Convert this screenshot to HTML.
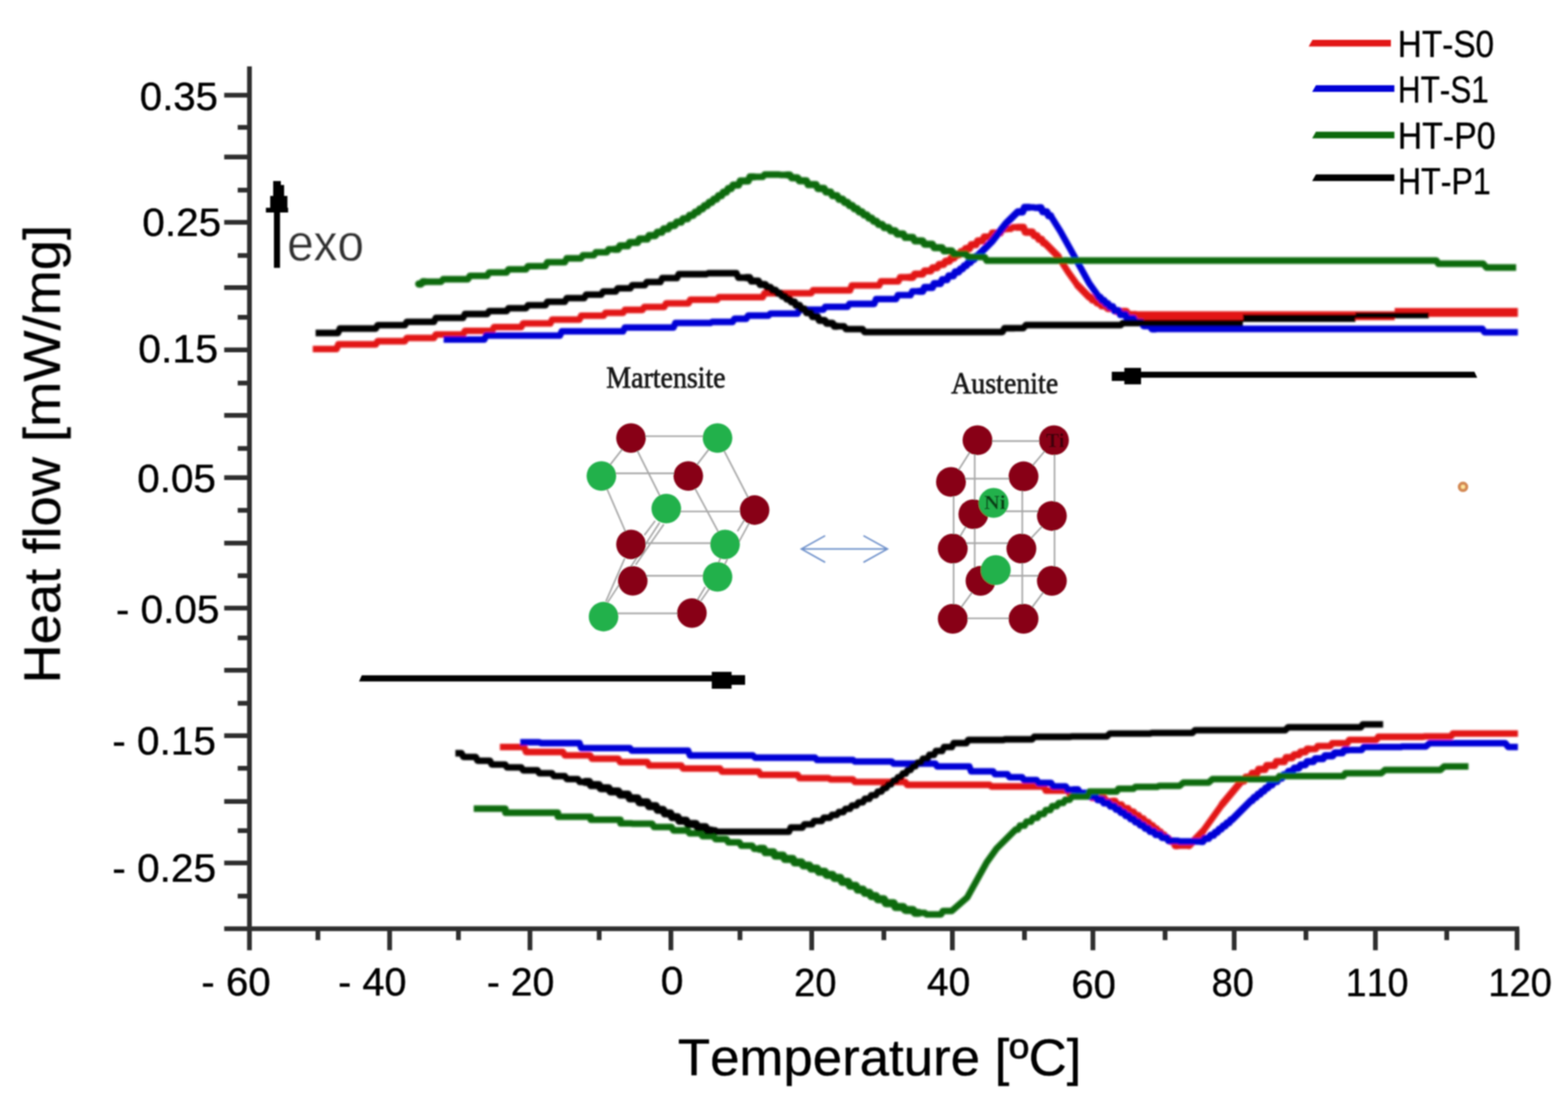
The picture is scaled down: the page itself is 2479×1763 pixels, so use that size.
<!DOCTYPE html>
<html lang="en"><head><meta charset="utf-8"><title>DSC heat flow curves</title>
<style>
html,body{margin:0;padding:0;background:#fff;}
body{width:2479px;height:1763px;overflow:hidden;}
svg{display:block;}
text{font-kerning:none;}
.sans{font-family:"Liberation Sans",Arial,Helvetica,sans-serif;fill:#000;stroke:#000;stroke-width:0.6px;stroke-linejoin:round;}
.serif{font-family:"Liberation Serif","Times New Roman",Times,serif;fill:#141414;stroke:#141414;stroke-width:1.0px;}
</style></head><body>
<svg width="2479" height="1763" viewBox="0 0 2479 1763">
<defs><filter id="soft" x="0" y="0" width="2479" height="1763" filterUnits="userSpaceOnUse"><feGaussianBlur stdDeviation="1.10"/></filter><filter id="soft2" x="0" y="0" width="2479" height="1763" filterUnits="userSpaceOnUse"><feGaussianBlur stdDeviation="0.9"/></filter></defs>
<rect width="2479" height="1763" fill="#ffffff"/>
<g filter="url(#soft)">
<g stroke="#2e2e2e" stroke-width="7.5" fill="none" stroke-linecap="butt">
<line x1="394.4" y1="105" x2="394.4" y2="1502.5"/>
<line x1="354.5" y1="1468.5" x2="2402" y2="1468.5"/>
<line x1="354.5" y1="150.5" x2="394.4" y2="150.5"/>
<line x1="354.5" y1="248.2" x2="394.4" y2="248.2"/>
<line x1="354.5" y1="351.6" x2="394.4" y2="351.6"/>
<line x1="354.5" y1="454.7" x2="394.4" y2="454.7"/>
<line x1="354.5" y1="553.3" x2="394.4" y2="553.3"/>
<line x1="354.5" y1="656.7" x2="394.4" y2="656.7"/>
<line x1="354.5" y1="755.3" x2="394.4" y2="755.3"/>
<line x1="354.5" y1="858.7" x2="394.4" y2="858.7"/>
<line x1="354.5" y1="961.6" x2="394.4" y2="961.6"/>
<line x1="354.5" y1="1059.8" x2="394.4" y2="1059.8"/>
<line x1="354.5" y1="1163.2" x2="394.4" y2="1163.2"/>
<line x1="354.5" y1="1267.2" x2="394.4" y2="1267.2"/>
<line x1="354.5" y1="1364.6" x2="394.4" y2="1364.6"/>
<line x1="375.8" y1="201.4" x2="394.4" y2="201.4"/>
<line x1="375.8" y1="300.6" x2="394.4" y2="300.6"/>
<line x1="375.8" y1="404.0" x2="394.4" y2="404.0"/>
<line x1="375.8" y1="501.7" x2="394.4" y2="501.7"/>
<line x1="375.8" y1="605.7" x2="394.4" y2="605.7"/>
<line x1="375.8" y1="709.1" x2="394.4" y2="709.1"/>
<line x1="375.8" y1="806.9" x2="394.4" y2="806.9"/>
<line x1="375.8" y1="910.3" x2="394.4" y2="910.3"/>
<line x1="375.8" y1="1008.6" x2="394.4" y2="1008.6"/>
<line x1="375.8" y1="1112.0" x2="394.4" y2="1112.0"/>
<line x1="375.8" y1="1214.8" x2="394.4" y2="1214.8"/>
<line x1="375.8" y1="1313.4" x2="394.4" y2="1313.4"/>
<line x1="375.8" y1="1416.9" x2="394.4" y2="1416.9"/>
<line x1="616.0" y1="1468.5" x2="616.0" y2="1502.5"/>
<line x1="837.9" y1="1468.5" x2="837.9" y2="1502.5"/>
<line x1="1060.7" y1="1468.5" x2="1060.7" y2="1502.5"/>
<line x1="1283.3" y1="1468.5" x2="1283.3" y2="1502.5"/>
<line x1="1505.7" y1="1468.5" x2="1505.7" y2="1502.5"/>
<line x1="1727.9" y1="1468.5" x2="1727.9" y2="1502.5"/>
<line x1="1951.2" y1="1468.5" x2="1951.2" y2="1502.5"/>
<line x1="2174.5" y1="1468.5" x2="2174.5" y2="1502.5"/>
<line x1="2398.5" y1="1468.5" x2="2398.5" y2="1502.5"/>
<line x1="502.6" y1="1468.5" x2="502.6" y2="1486.5"/>
<line x1="724.8" y1="1468.5" x2="724.8" y2="1486.5"/>
<line x1="947.3" y1="1468.5" x2="947.3" y2="1486.5"/>
<line x1="1169.9" y1="1468.5" x2="1169.9" y2="1486.5"/>
<line x1="1397.4" y1="1468.5" x2="1397.4" y2="1486.5"/>
<line x1="1619.7" y1="1468.5" x2="1619.7" y2="1486.5"/>
<line x1="1842.0" y1="1468.5" x2="1842.0" y2="1486.5"/>
<line x1="2064.7" y1="1468.5" x2="2064.7" y2="1486.5"/>
<line x1="2287.3" y1="1468.5" x2="2287.3" y2="1486.5"/>
</g>
<text x="221.1" y="174.2" font-size="63.5" class="sans" textLength="123.5" lengthAdjust="spacingAndGlyphs" xml:space="preserve">0.35</text>
<text x="225.1" y="372.5" font-size="63.5" class="sans" textLength="124.5" lengthAdjust="spacingAndGlyphs" xml:space="preserve">0.25</text>
<text x="218.4" y="573.4" font-size="63.5" class="sans" textLength="126.4" lengthAdjust="spacingAndGlyphs" xml:space="preserve">0.15</text>
<text x="216.9" y="778.0" font-size="63.5" class="sans" textLength="124.4" lengthAdjust="spacingAndGlyphs" xml:space="preserve">0.05</text>
<text x="183.2" y="985.3" font-size="63.5" class="sans" textLength="163.8" lengthAdjust="spacingAndGlyphs" xml:space="preserve">- 0.05</text>
<text x="177.5" y="1192.7" font-size="63.5" class="sans" textLength="163.8" lengthAdjust="spacingAndGlyphs" xml:space="preserve">- 0.15</text>
<text x="177.4" y="1393.6" font-size="63.5" class="sans" textLength="164.3" lengthAdjust="spacingAndGlyphs" xml:space="preserve">- 0.25</text>
<text x="318.3" y="1574.2" font-size="63.5" class="sans" textLength="109.6" lengthAdjust="spacingAndGlyphs" xml:space="preserve">- 60</text>
<text x="534.6" y="1574.2" font-size="63.5" class="sans" textLength="108.1" lengthAdjust="spacingAndGlyphs" xml:space="preserve">- 40</text>
<text x="769.8" y="1574.0" font-size="63.5" class="sans" textLength="106.7" lengthAdjust="spacingAndGlyphs" xml:space="preserve">- 20</text>
<text x="1044.4" y="1572.0" font-size="63.5" class="sans" textLength="36.1" lengthAdjust="spacingAndGlyphs" xml:space="preserve">0</text>
<text x="1255.5" y="1574.6" font-size="63.5" class="sans" textLength="67.0" lengthAdjust="spacingAndGlyphs" xml:space="preserve">20</text>
<text x="1465.6" y="1574.0" font-size="63.5" class="sans" textLength="68.5" lengthAdjust="spacingAndGlyphs" xml:space="preserve">40</text>
<text x="1693.7" y="1577.6" font-size="63.5" class="sans" textLength="70.4" lengthAdjust="spacingAndGlyphs" xml:space="preserve">60</text>
<text x="1915.5" y="1575.0" font-size="63.5" class="sans" textLength="66.8" lengthAdjust="spacingAndGlyphs" xml:space="preserve">80</text>
<text x="2127.6" y="1574.6" font-size="63.5" class="sans" textLength="99.1" lengthAdjust="spacingAndGlyphs" xml:space="preserve">110</text>
<text x="2352.9" y="1574.6" font-size="63.5" class="sans" textLength="100.8" lengthAdjust="spacingAndGlyphs" xml:space="preserve">120</text>
<text x="1071.7" y="1700.3" font-size="81.0" class="sans" textLength="638.0" lengthAdjust="spacingAndGlyphs" xml:space="preserve">Temperature [ºC]</text>
<text transform="translate(94.6,1073.7) rotate(-90)" x="-7.0" y="0" font-size="81" class="sans" textLength="725.2" lengthAdjust="spacingAndGlyphs">Heat flow [mW/mg]</text>
<g filter="url(#soft2)">
<polyline points="494.5,551.8 532.0,551.8 535.0,544.5 572.6,544.5 594.1,544.5 597.1,539.5 640.1,539.5 643.1,534.4 664.6,534.4 686.1,534.4 689.1,528.8 732.1,528.8 735.1,523.1 756.6,523.1 778.1,523.1 781.1,517.2 824.0,517.2 827.0,511.4 848.5,511.4 870.0,511.4 873.0,505.3 916.0,505.3 919.0,499.2 940.5,499.2 954.3,499.2 957.3,494.6 985.0,494.6 988.0,490.0 1015.7,490.0 1018.7,485.4 1032.5,485.4 1050.1,485.4 1053.1,479.6 1088.4,479.6 1091.4,473.8 1109.0,473.8 1133.7,473.8 1136.7,469.8 1161.3,469.8 1205.8,469.8 1208.8,463.6 1253.3,463.6 1282.4,463.6 1285.4,459.0 1314.6,459.0 1343.8,459.0 1346.8,451.4 1376.0,451.4 1389.8,451.4 1392.8,444.9 1420.2,444.9 1423.2,438.5 1437.0,438.5 1443.2,438.5 1446.2,433.4 1458.7,433.4 1461.7,428.4 1467.9,428.4 1471.5,428.4 1474.5,423.3 1481.7,423.3 1484.7,418.1 1491.9,418.1 1494.9,413.0 1498.5,413.0 1500.8,413.0 1503.8,408.0 1508.4,408.0 1511.4,403.0 1516.1,403.0 1519.1,398.0 1523.7,398.0 1526.7,393.0 1529.0,393.0 1532.6,393.0 1535.6,386.9 1542.9,386.9 1545.9,380.8 1553.2,380.8 1556.2,374.7 1559.8,374.7 1566.0,374.7 1569.0,368.3 1581.3,368.3 1584.3,361.9 1590.5,361.9 1598.2,361.9 1601.2,359.4 1609.0,359.4 1618.0,359.4 1621.0,367.0 1630.0,367.0 1632.1,367.0 1635.1,372.7 1639.4,372.7 1642.4,378.3 1646.7,378.3 1649.7,384.0 1651.8,384.0 1673.0,405.4 1688.6,430.0 1704.0,451.4 1722.0,469.8 1724.1,469.8 1727.1,474.4 1731.4,474.4 1734.4,479.0 1738.7,479.0 1741.7,483.6 1743.8,483.6 1748.3,483.6 1751.3,487.8 1760.5,487.8 1763.5,492.0 1768.0,492.0 1781.0,492.0 1784.0,497.0 1797.0,497.0" fill="none" stroke="#e21215" stroke-width="10.3" stroke-linejoin="round" stroke-linecap="butt"/><polyline points="1437.0,438.5 1443.2,438.5 1446.2,433.4 1458.7,433.4 1461.7,428.4 1467.9,428.4 1471.5,428.4 1474.5,423.3 1481.7,423.3 1484.7,418.1 1491.9,418.1 1494.9,413.0 1498.5,413.0 1500.8,413.0 1503.8,408.0 1508.4,408.0 1511.4,403.0 1516.1,403.0 1519.1,398.0 1523.7,398.0 1526.7,393.0 1529.0,393.0 1532.6,393.0 1535.6,386.9 1542.9,386.9 1545.9,380.8 1553.2,380.8 1556.2,374.7 1559.8,374.7 1566.0,374.7 1569.0,368.3 1581.3,368.3 1584.3,361.9 1590.5,361.9" fill="none" stroke="#e21215" stroke-width="11.3" stroke-linejoin="round" stroke-linecap="round"/><polyline points="1609.0,359.4 1618.0,359.4 1621.0,367.0 1630.0,367.0 1632.1,367.0 1635.1,372.7 1639.4,372.7 1642.4,378.3 1646.7,378.3 1649.7,384.0 1651.8,384.0 1673.0,405.4" fill="none" stroke="#e21215" stroke-width="11.3" stroke-linejoin="round" stroke-linecap="round"/><polyline points="1704.0,451.4 1722.0,469.8 1724.1,469.8 1727.1,474.4 1731.4,474.4 1734.4,479.0 1738.7,479.0 1741.7,483.6 1743.8,483.6 1748.3,483.6 1751.3,487.8 1760.5,487.8 1763.5,492.0 1768.0,492.0" fill="none" stroke="#e21215" stroke-width="11.3" stroke-linejoin="round" stroke-linecap="round"/>
<polyline points="1793.0,499.2 2205.0,499.2" fill="none" stroke="#e21215" stroke-width="14.0" stroke-linejoin="round" stroke-linecap="butt"/>
<polyline points="2205.0,494.0 2399.7,494.0" fill="none" stroke="#e21215" stroke-width="14.0" stroke-linejoin="round" stroke-linecap="butt"/>
<polyline points="701.4,536.8 765.7,536.8 768.7,530.6 833.0,530.6 885.2,530.6 888.2,523.9 940.5,523.9 985.0,523.9 988.0,517.8 1032.5,517.8 1064.8,517.8 1067.8,510.7 1100.0,510.7 1123.0,510.7 1126.0,509.0 1149.0,509.0 1158.2,509.0 1161.2,504.0 1179.8,504.0 1182.8,499.0 1192.0,499.0 1215.0,499.0 1218.0,495.8 1241.0,495.8 1261.0,495.8 1264.0,489.7 1284.0,489.7 1301.7,489.7 1304.7,485.1 1339.9,485.1 1342.9,480.5 1360.6,480.5 1382.1,480.5 1385.1,472.8 1406.6,472.8 1416.6,472.8 1419.6,466.7 1439.5,466.7 1442.5,460.6 1452.5,460.6 1458.7,460.6 1461.7,454.5 1474.0,454.5 1477.0,448.3 1483.2,448.3 1486.8,448.3 1489.8,442.2 1497.1,442.2 1500.1,436.1 1507.3,436.1 1510.3,430.0 1513.9,430.0 1515.5,430.0 1518.5,425.1 1521.6,425.1 1524.6,420.2 1527.7,420.2 1530.7,415.2 1533.8,415.2 1536.8,410.3 1539.9,410.3 1542.9,405.4 1544.5,405.4 1569.0,380.9 1590.5,353.3 1609.0,335.0 1616.7,335.0 1619.7,327.8 1627.3,327.8 1633.4,327.8 1636.4,328.5 1642.6,328.5 1645.7,328.5 1648.7,334.8 1654.9,334.8 1657.9,341.0 1661.0,341.0 1676.3,365.5 1691.7,393.0 1707.0,420.7 1722.3,448.3 1737.6,469.8 1739.2,469.8 1742.2,474.9 1745.3,474.9 1748.3,479.9 1751.4,479.9 1754.4,485.0 1756.0,485.0 1759.1,485.0 1762.1,491.2 1768.3,491.2 1771.3,497.4 1774.4,497.4 1779.3,497.4 1782.3,503.7 1792.1,503.7 1795.1,510.0 1800.0,510.0 1805.2,510.0 1808.2,515.0 1818.4,515.0 1821.4,520.0 1826.6,520.0 2343.7,520.0 2347.0,525.4 2399.7,525.4" fill="none" stroke="#0000d6" stroke-width="10.3" stroke-linejoin="round" stroke-linecap="butt"/><polyline points="1452.5,460.6 1458.7,460.6 1461.7,454.5 1474.0,454.5 1477.0,448.3 1483.2,448.3 1486.8,448.3 1489.8,442.2 1497.1,442.2 1500.1,436.1 1507.3,436.1 1510.3,430.0 1513.9,430.0 1515.5,430.0 1518.5,425.1 1521.6,425.1 1524.6,420.2 1527.7,420.2 1530.7,415.2 1533.8,415.2 1536.8,410.3 1539.9,410.3 1542.9,405.4 1544.5,405.4 1569.0,380.9 1590.5,353.3 1609.0,335.0 1616.7,335.0 1619.7,327.8 1627.3,327.8" fill="none" stroke="#0000d6" stroke-width="11.3" stroke-linejoin="round" stroke-linecap="round"/><polyline points="1642.6,328.5 1645.7,328.5 1648.7,334.8 1654.9,334.8 1657.9,341.0 1661.0,341.0" fill="none" stroke="#0000d6" stroke-width="11.3" stroke-linejoin="round" stroke-linecap="round"/><polyline points="1737.6,469.8 1739.2,469.8 1742.2,474.9 1745.3,474.9 1748.3,479.9 1751.4,479.9 1754.4,485.0 1756.0,485.0 1759.1,485.0 1762.1,491.2 1768.3,491.2 1771.3,497.4 1774.4,497.4 1779.3,497.4 1782.3,503.7 1792.1,503.7 1795.1,510.0 1800.0,510.0 1805.2,510.0 1808.2,515.0 1818.4,515.0 1821.4,520.0 1826.6,520.0" fill="none" stroke="#0000d6" stroke-width="11.3" stroke-linejoin="round" stroke-linecap="round"/>
<polyline points="662.0,449.0 665.5,449.0 668.5,445.5 672.0,445.5 697.5,445.5 700.5,441.5 726.0,441.5 739.8,441.5 742.8,436.2 770.2,436.2 773.2,430.9 787.0,430.9 800.9,430.9 803.9,425.9 831.6,425.9 834.6,420.8 848.5,420.8 862.3,420.8 865.3,414.6 893.0,414.6 896.0,408.5 909.8,408.5 918.5,408.5 921.5,403.7 938.9,403.7 941.9,398.9 959.3,398.9 962.3,394.1 971.0,394.1 977.2,394.1 980.2,388.7 992.6,388.7 995.6,383.3 1007.9,383.3 1010.9,377.9 1023.3,377.9 1026.3,372.5 1032.5,372.5 1036.1,372.5 1039.1,367.2 1046.3,367.2 1049.3,361.8 1056.5,361.8 1059.5,356.5 1066.8,356.5 1069.8,351.2 1077.0,351.2 1080.0,345.8 1087.2,345.8 1090.2,340.5 1093.8,340.5 1096.0,340.5 1099.0,335.4 1103.4,335.4 1106.4,330.3 1110.8,330.3 1113.8,325.1 1118.1,325.1 1121.1,320.0 1125.5,320.0 1128.5,314.9 1130.7,314.9 1133.0,314.9 1136.0,309.3 1140.7,309.3 1143.7,303.8 1148.3,303.8 1151.3,298.2 1156.0,298.2 1159.0,292.6 1161.3,292.6 1167.5,292.6 1170.5,286.1 1182.8,286.1 1185.8,279.7 1192.0,279.7 1205.8,279.7 1208.8,276.0 1222.6,276.0 1231.8,276.0 1234.8,276.6 1244.0,276.6 1248.7,276.6 1251.7,281.2 1260.9,281.2 1263.9,285.8 1268.6,285.8 1274.8,285.8 1277.8,291.9 1290.1,291.9 1293.1,298.0 1299.3,298.0 1302.9,298.0 1305.9,303.7 1313.2,303.7 1316.2,309.3 1323.4,309.3 1326.4,315.0 1330.0,315.0 1332.3,315.0 1335.3,320.0 1340.0,320.0 1343.0,325.0 1347.6,325.0 1350.6,330.0 1355.3,330.0 1358.3,335.0 1360.6,335.0 1362.9,335.0 1365.9,339.9 1370.6,339.9 1373.6,344.9 1378.2,344.9 1381.2,349.8 1385.9,349.9 1388.9,354.8 1391.2,354.8 1394.8,354.8 1397.8,359.9 1405.1,359.9 1408.1,364.9 1415.3,364.9 1418.3,370.0 1421.9,370.0 1428.1,370.0 1431.1,375.4 1443.3,375.4 1446.3,380.9 1452.5,380.9 1458.7,380.9 1461.7,386.2 1474.0,386.2 1477.0,391.6 1483.2,391.6 1489.4,391.6 1492.4,396.6 1504.7,396.6 1507.7,401.7 1513.9,401.7 1527.7,401.7 1530.7,406.4 1544.5,406.4 1556.8,406.4 1559.8,412.0 1572.0,412.0 2271.0,412.0 2274.0,417.0 2345.0,417.0 2350.0,423.0 2397.0,423.0" fill="none" stroke="#0b6b0b" stroke-width="10.3" stroke-linejoin="round" stroke-linecap="butt"/><polyline points="662.0,449.0 665.5,449.0 668.5,445.5 672.0,445.5" fill="none" stroke="#0b6b0b" stroke-width="11.3" stroke-linejoin="round" stroke-linecap="round"/><polyline points="971.0,394.1 977.2,394.1 980.2,388.7 992.6,388.7 995.6,383.3 1007.9,383.3 1010.9,377.9 1023.3,377.9 1026.3,372.5 1032.5,372.5 1036.1,372.5 1039.1,367.2 1046.3,367.2 1049.3,361.8 1056.5,361.8 1059.5,356.5 1066.8,356.5 1069.8,351.2 1077.0,351.2 1080.0,345.8 1087.2,345.8 1090.2,340.5 1093.8,340.5 1096.0,340.5 1099.0,335.4 1103.4,335.4 1106.4,330.3 1110.8,330.3 1113.8,325.1 1118.1,325.1 1121.1,320.0 1125.5,320.0 1128.5,314.9 1130.7,314.9 1133.0,314.9 1136.0,309.3 1140.7,309.3 1143.7,303.8 1148.3,303.8 1151.3,298.2 1156.0,298.2 1159.0,292.6 1161.3,292.6 1167.5,292.6 1170.5,286.1 1182.8,286.1 1185.8,279.7 1192.0,279.7" fill="none" stroke="#0b6b0b" stroke-width="11.3" stroke-linejoin="round" stroke-linecap="round"/><polyline points="1244.0,276.6 1248.7,276.6 1251.7,281.2 1260.9,281.2 1263.9,285.8 1268.6,285.8 1274.8,285.8 1277.8,291.9 1290.1,291.9 1293.1,298.0 1299.3,298.0 1302.9,298.0 1305.9,303.7 1313.2,303.7 1316.2,309.3 1323.4,309.3 1326.4,315.0 1330.0,315.0 1332.3,315.0 1335.3,320.0 1340.0,320.0 1343.0,325.0 1347.6,325.0 1350.6,330.0 1355.3,330.0 1358.3,335.0 1360.6,335.0 1362.9,335.0 1365.9,339.9 1370.6,339.9 1373.6,344.9 1378.2,344.9 1381.2,349.8 1385.9,349.9 1388.9,354.8 1391.2,354.8 1394.8,354.8 1397.8,359.9 1405.1,359.9 1408.1,364.9 1415.3,364.9 1418.3,370.0 1421.9,370.0 1428.1,370.0 1431.1,375.4 1443.3,375.4 1446.3,380.9 1452.5,380.9 1458.7,380.9 1461.7,386.2 1474.0,386.2 1477.0,391.6 1483.2,391.6 1489.4,391.6 1492.4,396.6 1504.7,396.6 1507.7,401.7 1513.9,401.7" fill="none" stroke="#0b6b0b" stroke-width="11.3" stroke-linejoin="round" stroke-linecap="round"/>
<polyline points="499.0,526.5 534.3,526.5 537.3,519.5 572.6,519.5 594.1,519.5 597.1,514.1 640.1,514.1 643.1,508.8 664.6,508.8 686.1,508.8 689.1,502.6 732.1,502.6 735.1,496.5 756.6,496.5 770.4,496.5 773.4,491.9 801.0,491.9 804.0,487.3 831.7,487.3 834.7,482.7 848.5,482.7 862.3,482.7 865.3,477.1 893.0,477.1 896.0,471.4 923.7,471.4 926.7,465.8 940.5,465.8 950.5,465.8 953.5,460.8 973.5,460.8 976.5,455.8 996.5,455.9 999.5,450.9 1019.5,450.9 1022.5,445.9 1032.5,445.9 1044.0,445.9 1047.0,439.7 1070.1,439.7 1073.1,433.5 1084.6,433.5 1116.8,433.5 1119.8,432.0 1152.0,432.0 1164.3,432.0 1167.3,439.0 1179.7,439.0 1185.1,439.0 1188.1,444.4 1198.9,444.4 1201.9,449.8 1207.3,449.8 1209.9,449.8 1212.9,454.4 1218.0,454.4 1221.0,459.0 1226.2,459.0 1229.2,463.6 1231.8,463.6 1233.9,463.6 1236.9,468.2 1241.0,468.2 1244.0,472.8 1248.2,472.8 1251.2,477.4 1253.3,477.4 1255.9,477.4 1258.9,483.0 1264.0,483.0 1267.0,488.7 1272.2,488.7 1275.2,494.3 1277.8,494.3 1281.7,494.3 1284.7,500.5 1292.4,500.5 1295.4,506.6 1299.3,506.6 1303.9,506.6 1306.9,511.2 1316.2,511.2 1319.2,515.8 1323.8,515.8 1334.5,515.8 1337.5,520.4 1348.3,520.4 1363.7,520.4 1366.7,525.0 1382.0,525.0 1582.8,525.0 1584.9,525.0 1587.9,519.0 1590.0,519.0 1602.5,519.0 1605.5,518.8 1618.0,518.8 1622.0,514.0 1771.0,514.0 1772.0,514.0 1775.0,510.8 1776.0,510.8 1965.0,510.8" fill="none" stroke="#000000" stroke-width="10.3" stroke-linejoin="round" stroke-linecap="butt"/><polyline points="1179.7,439.0 1185.1,439.0 1188.1,444.4 1198.9,444.4 1201.9,449.8 1207.3,449.8 1209.9,449.8 1212.9,454.4 1218.0,454.4 1221.0,459.0 1226.2,459.0 1229.2,463.6 1231.8,463.6 1233.9,463.6 1236.9,468.2 1241.0,468.2 1244.0,472.8 1248.2,472.8 1251.2,477.4 1253.3,477.4 1255.9,477.4 1258.9,483.0 1264.0,483.0 1267.0,488.7 1272.2,488.7 1275.2,494.3 1277.8,494.3 1281.7,494.3 1284.7,500.5 1292.4,500.5 1295.4,506.6 1299.3,506.6 1303.9,506.6 1306.9,511.2 1316.2,511.2 1319.2,515.8 1323.8,515.8" fill="none" stroke="#000000" stroke-width="11.3" stroke-linejoin="round" stroke-linecap="round"/>
<polyline points="1965.0,503.0 2143.0,503.0" fill="none" stroke="#000000" stroke-width="12.0" stroke-linejoin="round" stroke-linecap="butt"/>
<polyline points="2143.0,498.6 2259.0,498.6" fill="none" stroke="#000000" stroke-width="9.4" stroke-linejoin="round" stroke-linecap="butt"/>
<polyline points="790.4,1181.2 828.7,1181.2 831.7,1189.0 870.0,1189.0 890.0,1189.0 893.0,1194.3 932.9,1194.3 935.9,1199.6 955.9,1199.6 977.4,1199.6 980.4,1205.0 1023.4,1205.0 1026.4,1210.4 1047.9,1210.4 1077.1,1210.4 1080.1,1215.2 1138.3,1215.2 1141.3,1220.0 1170.5,1220.0 1199.6,1220.0 1202.6,1225.2 1260.9,1225.2 1263.9,1230.3 1293.0,1230.3 1310.0,1230.3 1313.0,1232.4 1330.0,1232.4 1348.5,1232.4 1351.5,1236.4 1369.9,1236.4 1431.2,1236.4 1434.2,1241.0 1495.5,1241.0 1564.5,1241.0 1567.5,1243.5 1636.6,1243.5 1650.4,1243.5 1653.4,1250.2 1667.2,1250.2 1688.7,1250.2 1691.7,1256.3 1713.2,1256.3 1723.2,1256.3 1726.2,1261.7 1746.2,1261.7 1749.2,1267.0 1759.2,1267.0 1762.8,1267.0 1765.8,1272.7 1773.0,1272.7 1776.0,1278.3 1783.2,1278.3 1786.2,1284.0 1789.8,1284.0 1792.1,1284.0 1795.1,1289.3 1799.8,1289.3 1802.8,1294.7 1807.5,1294.7 1810.5,1300.1 1815.2,1300.1 1818.2,1305.4 1820.5,1305.4 1822.1,1305.4 1825.1,1310.3 1828.2,1310.3 1831.2,1315.2 1834.3,1315.2 1837.3,1320.2 1840.5,1320.2 1843.5,1325.1 1846.6,1325.1 1849.6,1330.0 1851.2,1330.0 1855.1,1330.0 1858.1,1337.0 1862.0,1337.0 1880.0,1337.0 1901.6,1314.6 1932.3,1271.7 1963.0,1234.9 1966.6,1234.9 1969.6,1228.8 1976.8,1228.8 1979.8,1222.6 1987.0,1222.6 1990.0,1216.5 1993.6,1216.5 1999.8,1216.5 2002.8,1210.3 2015.1,1210.3 2018.1,1204.2 2030.4,1204.2 2033.4,1198.0 2039.6,1198.0 2043.2,1198.0 2046.2,1193.4 2053.4,1193.4 2056.4,1188.9 2063.6,1188.9 2066.6,1184.3 2070.2,1184.3 2080.2,1184.3 2083.2,1179.7 2103.2,1179.7 2106.2,1175.1 2116.2,1175.1 2130.1,1175.1 2133.1,1169.9 2146.9,1169.9 2176.1,1169.9 2179.1,1165.0 2208.2,1165.0 2249.6,1165.0 2252.6,1164.4 2294.0,1164.4 2297.0,1159.8 2399.8,1159.8" fill="none" stroke="#e21215" stroke-width="10.3" stroke-linejoin="round" stroke-linecap="butt"/><polyline points="1759.2,1267.0 1762.8,1267.0 1765.8,1272.7 1773.0,1272.7 1776.0,1278.3 1783.2,1278.3 1786.2,1284.0 1789.8,1284.0 1792.1,1284.0 1795.1,1289.3 1799.8,1289.3 1802.8,1294.7 1807.5,1294.7 1810.5,1300.1 1815.2,1300.1 1818.2,1305.4 1820.5,1305.4 1822.1,1305.4 1825.1,1310.3 1828.2,1310.3 1831.2,1315.2 1834.3,1315.2 1837.3,1320.2 1840.5,1320.2 1843.5,1325.1 1846.6,1325.1 1849.6,1330.0 1851.2,1330.0 1855.1,1330.0 1858.1,1337.0 1862.0,1337.0" fill="none" stroke="#e21215" stroke-width="11.3" stroke-linejoin="round" stroke-linecap="round"/><polyline points="1880.0,1337.0 1901.6,1314.6" fill="none" stroke="#e21215" stroke-width="11.3" stroke-linejoin="round" stroke-linecap="round"/><polyline points="1932.3,1271.7 1963.0,1234.9 1966.6,1234.9 1969.6,1228.8 1976.8,1228.8 1979.8,1222.6 1987.0,1222.6 1990.0,1216.5 1993.6,1216.5 1999.8,1216.5 2002.8,1210.3 2015.1,1210.3 2018.1,1204.2 2030.4,1204.2 2033.4,1198.0 2039.6,1198.0 2043.2,1198.0 2046.2,1193.4 2053.4,1193.4 2056.4,1188.9 2063.6,1188.9 2066.6,1184.3 2070.2,1184.3" fill="none" stroke="#e21215" stroke-width="11.3" stroke-linejoin="round" stroke-linecap="round"/>
<polyline points="822.5,1173.6 852.5,1173.6 855.5,1175.0 885.4,1175.0 916.1,1175.0 919.1,1182.8 949.8,1182.8 995.8,1182.8 998.8,1186.8 1044.8,1186.8 1087.8,1186.8 1090.8,1194.5 1133.7,1194.5 1190.5,1194.5 1193.5,1198.0 1250.2,1198.0 1288.6,1198.0 1291.6,1201.6 1330.0,1201.6 1348.5,1201.6 1351.5,1204.2 1369.9,1204.2 1409.8,1204.2 1412.8,1207.3 1452.6,1207.3 1478.7,1207.3 1481.7,1211.9 1507.8,1211.9 1532.4,1211.9 1535.4,1219.6 1560.0,1219.6 1570.0,1219.6 1573.0,1224.2 1592.9,1224.2 1595.9,1228.8 1605.9,1228.8 1615.9,1228.8 1618.9,1233.4 1638.9,1233.4 1641.9,1238.0 1651.9,1238.0 1661.9,1238.0 1664.9,1243.3 1684.9,1243.3 1687.9,1248.7 1697.9,1248.7 1704.1,1248.7 1707.1,1254.1 1719.3,1254.1 1722.3,1259.4 1728.5,1259.4 1732.1,1259.4 1735.1,1264.5 1742.3,1264.5 1745.3,1269.6 1752.6,1269.6 1755.6,1274.7 1759.2,1274.7 1761.5,1274.7 1764.5,1279.7 1769.2,1279.7 1772.2,1284.7 1776.8,1284.7 1779.8,1289.7 1784.5,1289.7 1787.5,1294.7 1789.8,1294.7 1792.1,1294.7 1795.1,1299.7 1799.8,1299.7 1802.8,1304.6 1807.5,1304.7 1810.5,1309.6 1815.2,1309.6 1818.2,1314.6 1820.5,1314.6 1824.1,1314.6 1827.1,1319.5 1834.3,1319.5 1837.3,1324.4 1844.6,1324.4 1847.6,1329.3 1851.2,1329.3 1862.0,1329.3 1865.0,1330.5 1875.7,1330.5 1898.6,1330.5 1901.7,1330.5 1904.7,1325.6 1910.9,1325.6 1913.9,1320.7 1917.0,1320.7 1918.6,1320.7 1921.6,1315.8 1924.7,1315.8 1927.7,1310.9 1930.8,1310.9 1933.8,1306.0 1936.9,1306.0 1939.9,1301.1 1943.0,1301.1 1946.0,1296.2 1947.6,1296.2 1978.3,1265.5 1979.9,1265.5 1982.9,1260.6 1986.0,1260.6 1989.0,1255.7 1992.1,1255.7 1995.1,1250.8 1998.2,1250.8 2001.2,1245.9 2004.3,1245.9 2007.3,1241.0 2008.9,1241.0 2011.2,1241.0 2014.2,1235.7 2018.9,1235.7 2021.9,1230.3 2026.6,1230.3 2029.6,1224.9 2034.3,1224.9 2037.3,1219.6 2039.6,1219.6 2043.2,1219.6 2046.2,1214.5 2053.4,1214.5 2056.4,1209.3 2063.6,1209.3 2066.6,1204.2 2070.2,1204.2 2076.4,1204.2 2079.4,1199.6 2091.7,1199.6 2094.7,1195.0 2100.9,1195.0 2107.1,1195.0 2110.1,1190.4 2122.3,1190.4 2125.3,1185.8 2131.5,1185.8 2153.0,1185.8 2156.0,1181.2 2177.5,1181.2 2214.3,1181.2 2217.3,1180.3 2254.2,1180.3 2260.3,1175.1 2379.9,1175.1 2384.5,1181.2 2399.8,1181.2" fill="none" stroke="#0000d6" stroke-width="10.3" stroke-linejoin="round" stroke-linecap="butt"/><polyline points="1697.9,1248.7 1704.1,1248.7 1707.1,1254.1 1719.3,1254.1 1722.3,1259.4 1728.5,1259.4 1732.1,1259.4 1735.1,1264.5 1742.3,1264.5 1745.3,1269.6 1752.6,1269.6 1755.6,1274.7 1759.2,1274.7 1761.5,1274.7 1764.5,1279.7 1769.2,1279.7 1772.2,1284.7 1776.8,1284.7 1779.8,1289.7 1784.5,1289.7 1787.5,1294.7 1789.8,1294.7 1792.1,1294.7 1795.1,1299.7 1799.8,1299.7 1802.8,1304.6 1807.5,1304.7 1810.5,1309.6 1815.2,1309.6 1818.2,1314.6 1820.5,1314.6 1824.1,1314.6 1827.1,1319.5 1834.3,1319.5 1837.3,1324.4 1844.6,1324.4 1847.6,1329.3 1851.2,1329.3" fill="none" stroke="#0000d6" stroke-width="11.3" stroke-linejoin="round" stroke-linecap="round"/><polyline points="1898.6,1330.5 1901.7,1330.5 1904.7,1325.6 1910.9,1325.6 1913.9,1320.7 1917.0,1320.7 1918.6,1320.7 1921.6,1315.8 1924.7,1315.8 1927.7,1310.9 1930.8,1310.9 1933.8,1306.0 1936.9,1306.0 1939.9,1301.1 1943.0,1301.1 1946.0,1296.2 1947.6,1296.2 1978.3,1265.5 1979.9,1265.5 1982.9,1260.6 1986.0,1260.6 1989.0,1255.7 1992.1,1255.7 1995.1,1250.8 1998.2,1250.8 2001.2,1245.9 2004.3,1245.9 2007.3,1241.0 2008.9,1241.0 2011.2,1241.0 2014.2,1235.7 2018.9,1235.7 2021.9,1230.3 2026.6,1230.3 2029.6,1224.9 2034.3,1224.9 2037.3,1219.6 2039.6,1219.6 2043.2,1219.6 2046.2,1214.5 2053.4,1214.5 2056.4,1209.3 2063.6,1209.3 2066.6,1204.2 2070.2,1204.2 2076.4,1204.2 2079.4,1199.6 2091.7,1199.6 2094.7,1195.0 2100.9,1195.0 2107.1,1195.0 2110.1,1190.4 2122.3,1190.4 2125.3,1185.8 2131.5,1185.8" fill="none" stroke="#0000d6" stroke-width="11.3" stroke-linejoin="round" stroke-linecap="round"/>
<polyline points="749.0,1278.7 799.0,1278.7 799.0,1285.0 882.0,1285.0 882.0,1291.3 934.0,1291.3 934.0,1296.2 981.0,1296.2 981.0,1301.8 997.6,1301.8 1000.6,1302.3 1017.2,1302.3 1031.0,1302.3 1034.0,1307.7 1061.7,1307.7 1064.7,1313.0 1078.5,1313.0 1087.2,1313.0 1090.2,1317.6 1107.7,1317.6 1110.7,1322.2 1128.1,1322.2 1131.1,1326.8 1139.8,1326.8 1148.5,1326.8 1151.5,1331.9 1168.9,1331.9 1171.9,1337.1 1189.3,1337.1 1192.3,1342.2 1201.0,1342.2 1207.2,1342.2 1210.2,1347.5 1222.6,1347.5 1225.6,1352.9 1237.9,1352.9 1240.9,1358.2 1253.3,1358.2 1256.3,1363.6 1262.5,1363.6 1267.1,1363.6 1270.1,1368.5 1279.4,1368.5 1282.4,1373.4 1291.7,1373.4 1294.7,1378.4 1303.9,1378.4 1306.9,1383.3 1316.2,1383.3 1319.2,1388.2 1323.8,1388.2 1328.5,1388.2 1331.5,1394.3 1340.8,1394.3 1343.8,1400.5 1353.0,1400.5 1356.0,1406.6 1360.7,1406.6 1364.3,1406.6 1367.3,1411.7 1374.5,1411.7 1377.5,1416.8 1384.7,1416.8 1387.7,1421.9 1391.3,1421.9 1397.5,1421.9 1400.5,1428.1 1412.8,1428.1 1415.8,1434.2 1422.0,1434.2 1428.2,1434.2 1431.2,1438.8 1443.4,1438.8 1446.4,1443.3 1452.6,1443.3 1461.8,1443.3 1464.8,1445.8 1474.0,1445.8 1487.8,1445.8 1490.8,1440.3 1504.7,1440.3 1529.3,1418.8 1544.6,1391.2 1560.0,1363.6 1575.2,1342.2 1605.9,1311.5 1609.5,1311.5 1612.5,1305.4 1619.8,1305.4 1622.8,1299.2 1630.0,1299.2 1633.0,1293.1 1636.6,1293.1 1640.2,1293.1 1643.2,1287.0 1650.4,1287.0 1653.4,1280.8 1660.6,1280.8 1663.6,1274.7 1667.2,1274.7 1670.8,1274.7 1673.8,1269.6 1681.1,1269.6 1684.1,1264.5 1691.3,1264.5 1694.3,1259.4 1697.9,1259.4 1719.4,1259.4 1722.4,1251.7 1743.9,1251.7 1765.3,1251.7 1768.3,1247.1 1789.8,1247.1 1792.1,1247.1 1795.1,1244.1 1797.4,1244.1 1829.6,1244.1 1832.6,1242.6 1864.8,1242.6 1871.0,1237.3 1910.8,1237.3 1917.0,1231.8 2018.0,1231.8 2019.6,1231.8 2022.6,1227.2 2024.2,1227.2 2122.3,1227.2 2123.9,1227.2 2126.9,1222.6 2128.5,1222.6 2183.7,1222.6 2189.8,1217.4 2277.2,1217.4 2283.3,1211.9 2321.6,1211.9" fill="none" stroke="#0b6b0b" stroke-width="10.3" stroke-linejoin="round" stroke-linecap="butt"/><polyline points="1201.0,1342.2 1207.2,1342.2 1210.2,1347.5 1222.6,1347.5 1225.6,1352.9 1237.9,1352.9 1240.9,1358.2 1253.3,1358.2 1256.3,1363.6 1262.5,1363.6 1267.1,1363.6 1270.1,1368.5 1279.4,1368.5 1282.4,1373.4 1291.7,1373.4 1294.7,1378.4 1303.9,1378.4 1306.9,1383.3 1316.2,1383.3 1319.2,1388.2 1323.8,1388.2 1328.5,1388.2 1331.5,1394.3 1340.8,1394.3 1343.8,1400.5 1353.0,1400.5 1356.0,1406.6 1360.7,1406.6 1364.3,1406.6 1367.3,1411.7 1374.5,1411.7 1377.5,1416.8 1384.7,1416.8 1387.7,1421.9 1391.3,1421.9 1397.5,1421.9 1400.5,1428.1 1412.8,1428.1 1415.8,1434.2 1422.0,1434.2 1428.2,1434.2 1431.2,1438.8 1443.4,1438.8 1446.4,1443.3 1452.6,1443.3" fill="none" stroke="#0b6b0b" stroke-width="12.7" stroke-linejoin="round" stroke-linecap="round"/>
<polyline points="720.0,1191.0 729.7,1191.0 732.7,1196.9 752.1,1196.9 755.1,1202.9 774.6,1202.9 777.6,1208.8 787.3,1208.8 798.6,1208.8 801.6,1213.4 824.1,1213.4 827.1,1218.0 849.7,1218.0 852.7,1222.6 864.0,1222.6 872.7,1222.6 875.7,1227.2 893.1,1227.2 896.1,1231.8 913.5,1231.8 916.5,1236.4 925.2,1236.4 931.4,1236.4 934.4,1241.4 946.7,1241.4 949.7,1246.3 962.1,1246.3 965.1,1251.3 977.4,1251.3 980.4,1256.3 986.6,1256.3 992.8,1256.3 995.8,1262.4 1008.0,1262.4 1011.0,1268.6 1023.3,1268.6 1026.3,1274.7 1032.5,1274.7 1036.8,1274.7 1039.8,1280.5 1048.2,1280.5 1051.2,1286.2 1059.8,1286.2 1062.8,1292.0 1071.2,1292.0 1074.2,1297.7 1078.5,1297.7 1084.7,1297.7 1087.7,1302.8 1100.0,1302.8 1103.0,1307.9 1115.3,1307.9 1118.3,1313.0 1124.5,1313.0 1130.7,1313.0 1133.7,1315.2 1139.8,1315.2 1234.9,1315.2 1247.2,1315.2 1250.2,1308.5 1262.5,1308.5 1268.7,1308.5 1271.7,1303.3 1284.0,1303.3 1287.0,1298.2 1299.2,1298.2 1302.2,1293.0 1308.4,1293.0 1312.3,1293.0 1315.3,1288.5 1323.1,1288.5 1326.1,1284.0 1330.0,1284.0 1333.6,1284.0 1336.6,1278.9 1343.8,1278.9 1346.8,1273.7 1354.1,1273.7 1357.1,1268.6 1360.7,1268.6 1364.3,1268.6 1367.3,1263.0 1374.5,1263.0 1377.5,1257.3 1384.7,1257.3 1387.7,1251.7 1391.3,1251.7 1393.6,1251.7 1396.6,1246.0 1401.3,1246.0 1404.3,1240.2 1409.0,1240.2 1412.0,1234.5 1416.7,1234.5 1419.7,1228.8 1422.0,1228.8 1424.3,1228.8 1427.3,1223.0 1432.0,1223.0 1435.0,1217.3 1439.6,1217.3 1442.6,1211.5 1447.3,1211.5 1450.3,1205.8 1452.6,1205.8 1456.2,1205.8 1459.2,1199.7 1466.4,1199.7 1469.4,1193.5 1476.7,1193.5 1479.7,1187.4 1483.3,1187.4 1489.5,1187.4 1492.5,1181.2 1504.8,1181.2 1507.8,1175.0 1514.0,1175.0 1527.8,1175.0 1530.8,1170.0 1544.6,1170.0 1586.0,1170.0 1589.0,1169.0 1630.4,1169.0 1632.0,1169.0 1635.0,1165.0 1636.6,1165.0 1691.8,1165.0 1694.8,1164.4 1750.0,1164.4 1754.6,1159.8 1818.2,1159.8 1821.2,1158.9 1884.9,1158.9 1889.5,1154.6 2031.9,1154.6 2036.5,1150.0 2151.5,1150.0 2154.5,1145.4 2186.7,1145.4" fill="none" stroke="#000000" stroke-width="10.3" stroke-linejoin="round" stroke-linecap="butt"/><polyline points="925.2,1236.4 931.4,1236.4 934.4,1241.4 946.7,1241.4 949.7,1246.3 962.1,1246.3 965.1,1251.3 977.4,1251.3 980.4,1256.3 986.6,1256.3 992.8,1256.3 995.8,1262.4 1008.0,1262.4 1011.0,1268.6 1023.3,1268.6 1026.3,1274.7 1032.5,1274.7 1036.8,1274.7 1039.8,1280.5 1048.2,1280.5 1051.2,1286.2 1059.8,1286.2 1062.8,1292.0 1071.2,1292.0 1074.2,1297.7 1078.5,1297.7 1084.7,1297.7 1087.7,1302.8 1100.0,1302.8 1103.0,1307.9 1115.3,1307.9 1118.3,1313.0 1124.5,1313.0" fill="none" stroke="#000000" stroke-width="12.7" stroke-linejoin="round" stroke-linecap="round"/>
</g>
<polygon points="2075.0,63.0 2199.0,63.0 2199.0,73.5 2069.0,73.5" fill="#e21215"/>
<text x="2209.8" y="90.2" font-size="60.0" class="sans" textLength="152.4" lengthAdjust="spacingAndGlyphs" xml:space="preserve">HT-S0</text>
<polygon points="2080.5,134.8 2204.5,134.8 2204.5,145.3 2074.5,145.3" fill="#0000d6"/>
<text x="2210.0" y="162.1" font-size="60.0" class="sans" textLength="143.8" lengthAdjust="spacingAndGlyphs" xml:space="preserve">HT-S1</text>
<polygon points="2080.5,208.3 2204.5,208.3 2204.5,218.8 2074.5,218.8" fill="#0b6b0b"/>
<text x="2209.7" y="234.5" font-size="60.0" class="sans" textLength="154.8" lengthAdjust="spacingAndGlyphs" xml:space="preserve">HT-P0</text>
<polygon points="2080.5,275.8 2204.5,275.8 2204.5,286.3 2074.5,286.3" fill="#000000"/>
<text x="2209.9" y="306.6" font-size="60.0" class="sans" textLength="147.0" lengthAdjust="spacingAndGlyphs" xml:space="preserve">HT-P1</text>
<g fill="#000" stroke="none">
<rect x="433.1" y="330" width="9.6" height="93.5"/>
<polygon points="431.9,286.2 444,286.2 444,292.5 449.2,292.5 449.2,309.8 454.4,309.8 454.4,328.6 455.5,328.6 455.5,336 420.4,336 420.4,328.6 427.2,328.6 427.2,309.8 431.9,309.8"/>
</g>
<text x="453.9" y="411.5" font-size="81.0" class="sans" textLength="121.7" lengthAdjust="spacingAndGlyphs" xml:space="preserve" style="fill:#303030;stroke:#fff;stroke-width:0.35px">exo</text>
<g fill="#000" stroke="none">
<polygon points="572,1067.8 1127,1067.8 1127,1077.6 567.6,1077.6"/>
<rect x="1125.3" y="1062.3" width="31.3" height="26.7"/>
<rect x="1156" y="1067.5" width="22" height="15.3"/>
<polygon points="1803,587.8 2331,587.8 2335.5,597.2 1803,597.2"/>
<rect x="1777.6" y="581.7" width="26.4" height="26"/>
<rect x="1757.7" y="587.8" width="20.5" height="14.5"/>
</g>
<g stroke="#a8a8a8" stroke-width="2.6" fill="none">
<line x1="997.6" y1="689.7" x2="1134.4" y2="689.7"/>
<line x1="950.8" y1="748.4" x2="1088.2" y2="748.4"/>
<line x1="1053.4" y1="808.7" x2="1193.0" y2="808.7"/>
<line x1="997.6" y1="858.9" x2="1146.3" y2="858.9"/>
<line x1="1000.4" y1="910.4" x2="1134.4" y2="910.4"/>
<line x1="954.2" y1="969.9" x2="1093.9" y2="969.9"/>
<line x1="997.6" y1="692.6" x2="950.8" y2="752.6"/>
<line x1="1134.4" y1="692.6" x2="1088.2" y2="752.6"/>
<line x1="997.6" y1="692.6" x2="1053.4" y2="804.2"/>
<line x1="1134.4" y1="692.6" x2="1193.0" y2="806.5"/>
<line x1="950.8" y1="752.6" x2="997.6" y2="860.8"/>
<line x1="1088.2" y1="752.6" x2="1146.3" y2="860.8"/>
<line x1="1042.9" y1="826.3" x2="960.7" y2="952.4"/>
<line x1="1035.8" y1="823.5" x2="1018.8" y2="846.1"/>
<line x1="987.6" y1="882.9" x2="957.9" y2="950.9"/>
<line x1="1049.5" y1="829.0" x2="1005.0" y2="893.0"/>
<line x1="1185.0" y1="826.0" x2="1160.0" y2="872.0"/>
<line x1="1177.0" y1="822.0" x2="1166.0" y2="840.0"/>
<line x1="1150.0" y1="884.0" x2="1136.0" y2="912.0"/>
<line x1="1140.0" y1="880.0" x2="1130.0" y2="905.0"/>
<line x1="1122.0" y1="930.0" x2="1108.0" y2="950.0"/>
<line x1="1115.0" y1="928.0" x2="1103.0" y2="948.0"/>
</g>
<circle cx="997.6" cy="692.6" r="23.4" fill="#880015"/>
<circle cx="1134.4" cy="692.6" r="23.4" fill="#22b14c"/>
<circle cx="950.8" cy="752.6" r="23.4" fill="#22b14c"/>
<circle cx="1088.2" cy="752.6" r="23.4" fill="#880015"/>
<circle cx="1053.4" cy="804.2" r="23.4" fill="#22b14c"/>
<circle cx="1193.0" cy="806.5" r="23.4" fill="#880015"/>
<circle cx="997.6" cy="860.8" r="23.4" fill="#880015"/>
<circle cx="1146.3" cy="860.8" r="23.4" fill="#22b14c"/>
<circle cx="1000.4" cy="918.4" r="23.4" fill="#880015"/>
<circle cx="1134.4" cy="912.1" r="23.4" fill="#22b14c"/>
<circle cx="954.2" cy="975.0" r="23.4" fill="#22b14c"/>
<circle cx="1093.9" cy="969.3" r="23.4" fill="#880015"/>
<g stroke="#a8a8a8" stroke-width="2.6" fill="none">
<line x1="1545.4" y1="697.4" x2="1666.3" y2="697.4"/>
<line x1="1503.5" y1="756.9" x2="1618.2" y2="756.9"/>
<line x1="1570.0" y1="808.4" x2="1663.0" y2="808.4"/>
<line x1="1506.3" y1="858.9" x2="1614.8" y2="858.9"/>
<line x1="1574.0" y1="910.4" x2="1663.0" y2="910.4"/>
<line x1="1506.3" y1="977.8" x2="1618.2" y2="977.8"/>
<line x1="1507.7" y1="762.0" x2="1507.7" y2="978.0"/>
<line x1="1541.0" y1="696.0" x2="1541.0" y2="900.0"/>
<line x1="1616.2" y1="753.0" x2="1616.2" y2="978.0"/>
<line x1="1667.2" y1="696.0" x2="1667.2" y2="918.0"/>
<line x1="1545.4" y1="696.0" x2="1503.5" y2="762.0"/>
<line x1="1666.3" y1="696.0" x2="1618.2" y2="753.2"/>
<line x1="1538.9" y1="813.0" x2="1506.3" y2="867.4"/>
<line x1="1663.0" y1="815.8" x2="1614.8" y2="867.4"/>
<line x1="1550.2" y1="918.4" x2="1506.3" y2="978.4"/>
<line x1="1663.0" y1="918.4" x2="1618.2" y2="978.4"/>
</g>
<circle cx="1545.4" cy="696.0" r="23.6" fill="#880015"/>
<circle cx="1666.3" cy="696.0" r="23.6" fill="#880015"/>
<circle cx="1503.5" cy="762.0" r="23.6" fill="#880015"/>
<circle cx="1618.2" cy="753.2" r="23.6" fill="#880015"/>
<circle cx="1538.9" cy="813.0" r="23.6" fill="#880015"/>
<circle cx="1663.0" cy="815.8" r="23.6" fill="#880015"/>
<circle cx="1506.3" cy="867.4" r="23.6" fill="#880015"/>
<circle cx="1614.8" cy="867.4" r="23.6" fill="#880015"/>
<circle cx="1550.2" cy="918.4" r="23.6" fill="#880015"/>
<circle cx="1663.0" cy="918.4" r="23.6" fill="#880015"/>
<circle cx="1506.3" cy="978.4" r="23.6" fill="#880015"/>
<circle cx="1618.2" cy="978.4" r="23.6" fill="#880015"/>
<circle cx="1570.9" cy="795.1" r="23.6" fill="#22b14c"/>
<circle cx="1574.3" cy="901.4" r="23.6" fill="#22b14c"/>
<text x="1654.1" y="707.0" font-size="32.0" class="serif" textLength="28.7" lengthAdjust="spacingAndGlyphs" xml:space="preserve" font-weight="bold" style="fill:#3c0008;stroke:none">Ti</text>
<text x="1556.0" y="805.0" font-size="32.0" class="serif" textLength="33.9" lengthAdjust="spacingAndGlyphs" xml:space="preserve" font-weight="bold" style="fill:#0a3f19;stroke:none">Ni</text>
<text x="958.6" y="613.3" font-size="48.0" class="serif" textLength="188.6" lengthAdjust="spacingAndGlyphs" xml:space="preserve">Martensite</text>
<text x="1503.7" y="622.3" font-size="48.0" class="serif" textLength="169.3" lengthAdjust="spacingAndGlyphs" xml:space="preserve">Austenite</text>
<g stroke="#7092cb" stroke-width="2.5" fill="none" stroke-linecap="round" stroke-linejoin="miter">
<line x1="1268" y1="868" x2="1402" y2="868"/>
<polyline points="1303.7,847.5 1267,868 1303.7,888.6"/>
<polyline points="1366,847.5 1403,868 1366,888.6"/>
</g>
<circle cx="2313" cy="769.8" r="5.8" fill="#ffe39a" stroke="#d48a55" stroke-width="5"/>
</g>
</svg>
</body></html>
